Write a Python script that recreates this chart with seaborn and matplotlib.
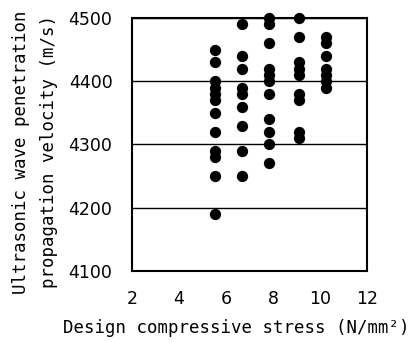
import matplotlib
matplotlib.use("Agg")
import matplotlib.pyplot as plt
import seaborn as sns
import pandas as pd
from matplotlib import font_manager

# ---- data ----
stress_levels = [5.55, 6.7, 7.85, 9.1, 10.25]
velocity_c1 = [4450, 4430, 4400, 4390, 4380, 4370, 4350, 4320, 4290, 4280, 4250, 4190]
velocity_c2 = [4490, 4440, 4420, 4390, 4380, 4360, 4330, 4290, 4250]
velocity_c3 = [4500, 4490, 4460, 4420, 4410, 4400, 4380, 4340, 4320, 4300, 4270]
velocity_c4 = [4500, 4470, 4430, 4420, 4410, 4380, 4370, 4320, 4310]
velocity_c5 = [4470, 4460, 4440, 4420, 4410, 4400, 4390]
x_ticks = [2, 4, 6, 8, 10, 12]
y_ticks = [4100, 4200, 4300, 4400, 4500]
x_label = "Design compressive stress (N/mm²)"
y_label_1 = "Ultrasonic wave penetration"
y_label_2 = "propagation velocity (m/s)"

groups = [velocity_c1, velocity_c2, velocity_c3, velocity_c4, velocity_c5]
rows = []
for xv, vals in zip(stress_levels, groups):
    for v in vals:
        rows.append({"stress": xv, "velocity": v})
df = pd.DataFrame(rows)

sns.set_style("white")
names = {f.name for f in font_manager.fontManager.ttflist}
tick_family = "Liberation Sans Narrow" if "Liberation Sans Narrow" in names else "DejaVu Sans"
label_family = "DejaVu Sans Mono"
plt.rcParams["font.family"] = [label_family, "DejaVu Sans"]
plt.rcParams["text.color"] = "black"
plt.rcParams["xtick.color"] = "black"
plt.rcParams["ytick.color"] = "black"

W, H = 409, 342
fig = plt.figure(figsize=(W / 100, H / 100), dpi=100)
left, right, top, bottom = 132, 367, 18, 271
ax = fig.add_axes([left / W, 1 - bottom / H, (right - left) / W, (bottom - top) / H])

sns.scatterplot(data=df, x="stress", y="velocity", ax=ax, color="black",
                s=66, linewidth=0, clip_on=False, zorder=3, legend=False)

ax.set_xlim(2, 12)
ax.set_ylim(4100, 4500)
ax.set_xticks(x_ticks)
ax.set_yticks(y_ticks)
ax.set_xticklabels([str(t) for t in x_ticks], family=tick_family, fontsize=12.5, color="black")
ax.set_yticklabels([str(t) for t in y_ticks], family=tick_family, fontsize=12.5, color="black")
ax.tick_params(axis="x", direction="in", length=5, width=1, color="black", pad=14)
ax.tick_params(axis="y", length=0, pad=14)
ax.yaxis.grid(True, color="black", linewidth=1)
ax.xaxis.grid(False)
ax.set_axisbelow(True)
for sp in ax.spines.values():
    sp.set_visible(True)
    sp.set_color("black")
    sp.set_linewidth(1.5)
ax.set_xlabel("")
ax.set_ylabel("")

fig.text(236 / W, 1 - 328 / H, x_label, ha="center", va="center", fontsize=12.5,
         color="black", family=[label_family, "DejaVu Sans"])
fig.text(21 / W, 1 - 152 / H, y_label_1, ha="center", va="center", rotation=90,
         fontsize=12.5, color="black", family=[label_family, "DejaVu Sans"])
fig.text(49 / W, 1 - 152 / H, y_label_2, ha="center", va="center", rotation=90,
         fontsize=12.5, color="black", family=[label_family, "DejaVu Sans"])

fig.savefig("out.png", dpi=100)
